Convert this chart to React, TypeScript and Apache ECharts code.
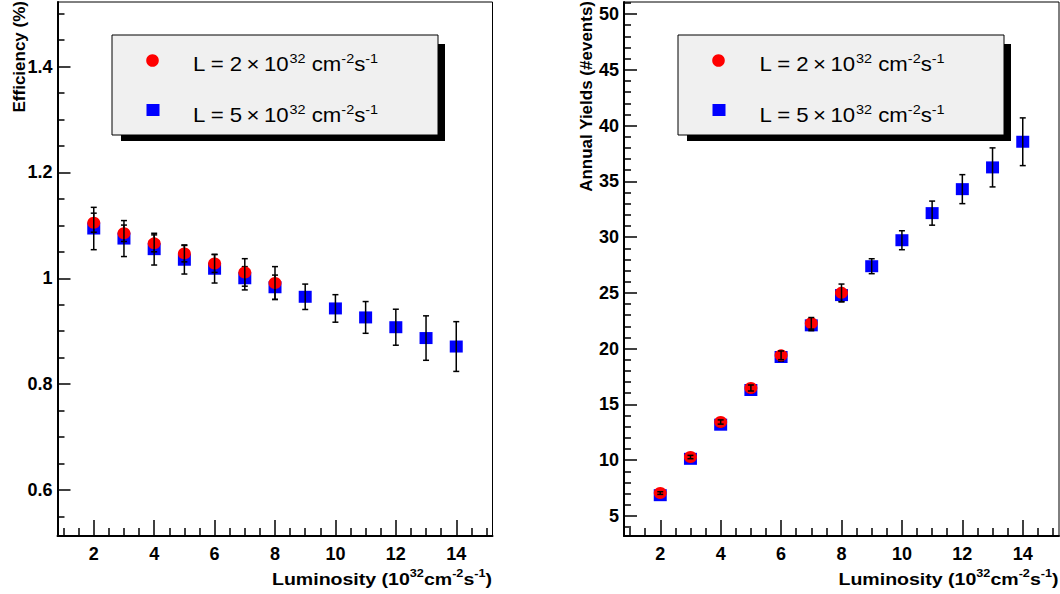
import React, { useEffect, useRef } from "react";
import * as echarts from "echarts";

// ---------- data ----------
const lumL2 = [2, 3, 4, 5, 6, 7, 8];
const lumL5 = [2, 3, 4, 5, 6, 7, 8, 9, 10, 11, 12, 13, 14];

const effL2 = [1.105, 1.085, 1.066, 1.047, 1.028, 1.011, 0.991];
const effL2Err = [0.018, 0.0155, 0.016, 0.016, 0.017, 0.026, 0.031];
const effL5 = [1.094, 1.075, 1.055, 1.035, 1.018, 1.0, 0.983, 0.965, 0.943, 0.926, 0.9075, 0.887, 0.871];
const effL5Err = [0.04, 0.034, 0.03, 0.027, 0.027, 0.022, 0.023, 0.024, 0.026, 0.03, 0.034, 0.042, 0.047];

const yieldL2 = [7.05, 10.28, 13.42, 16.47, 19.4, 22.27, 25.0];
const yieldL2Err = [0.12, 0.15, 0.19, 0.27, 0.39, 0.52, 0.79];
const yieldL5 = [6.86, 10.12, 13.18, 16.29, 19.25, 22.09, 24.8, 27.39, 29.72, 32.15, 34.3, 36.25, 38.55];
const yieldL5Err = [0.11, 0.14, 0.18, 0.25, 0.36, 0.48, 0.6, 0.67, 0.85, 1.08, 1.3, 1.75, 2.14];

const xMajorTicks = [2, 4, 6, 8, 10, 12, 14];
const xMinorTicks = [1, 1.5, 2.5, 3, 3.5, 4.5, 5, 5.5, 6.5, 7, 7.5, 8.5, 9, 9.5, 10.5, 11, 11.5, 12.5, 13, 13.5, 14.5, 15];
const effMajorTicks = [0.6, 0.8, 1, 1.2, 1.4];
const effMinorTicks = [0.55, 0.65, 0.7, 0.75, 0.85, 0.9, 0.95, 1.05, 1.1, 1.15, 1.25, 1.3, 1.35, 1.45, 1.5];
const yieldMajorTicks = [5, 10, 15, 20, 25, 30, 35, 40, 45, 50];
const yieldMinorTicks = [4, 6, 7, 8, 9, 11, 12, 13, 14, 16, 17, 18, 19, 21, 22, 23, 24, 26, 27, 28, 29, 31, 32, 33, 34, 36, 37, 38, 39, 41, 42, 43, 44, 46, 47, 48, 49, 51];

const xRange = [0.8, 15.2];
const effRange = [0.513, 1.522];
const yieldRange = [3.2, 51.08];

const legendLabels = ["2", "5"];
const effTitle = "Efficiency (%)";
const yieldTitle = "Annual Yields (#events)";

// ---------- styling ----------
const FONT = '"Liberation Sans", Arial, Helvetica, sans-serif';
const RED = "#ff0000";
const BLUE = "#0000ff";

function xAxes(grid: number) {
  return [
    {
      type: "value", gridIndex: grid, min: xRange[0], max: xRange[1], position: "bottom",
      axisLine: { show: true, onZero: false, lineStyle: { color: "#000", width: 2 } },
      axisTick: { show: true, inside: true, length: 16, customValues: xMajorTicks, lineStyle: { color: "#000", width: 1.5 } },
      axisLabel: { show: true, customValues: xMajorTicks, margin: 9, color: "#000", fontFamily: FONT, fontWeight: "bold", fontSize: 18 },
      splitLine: { show: false },
    },
    {
      type: "value", gridIndex: grid, min: xRange[0], max: xRange[1], position: "bottom",
      axisLine: { show: false, onZero: false },
      axisTick: { show: true, inside: true, length: 8, customValues: xMinorTicks, lineStyle: { color: "#000", width: 1.5 } },
      axisLabel: { show: false },
      splitLine: { show: false },
    },
  ];
}

function yAxes(grid: number, range: number[], major: number[], minor: number[]) {
  return [
    {
      type: "value", gridIndex: grid, min: range[0], max: range[1], position: "left",
      axisLine: { show: true, onZero: false, lineStyle: { color: "#000", width: 2 } },
      axisTick: { show: true, inside: true, length: 13, customValues: major, lineStyle: { color: "#000", width: 1.5 } },
      axisLabel: { show: true, customValues: major, margin: 5, color: "#000", fontFamily: FONT, fontWeight: "bold", fontSize: 18 },
      splitLine: { show: false },
    },
    {
      type: "value", gridIndex: grid, min: range[0], max: range[1], position: "left",
      axisLine: { show: false, onZero: false },
      axisTick: { show: true, inside: true, length: 7, customValues: minor, lineStyle: { color: "#000", width: 1.5 } },
      axisLabel: { show: false },
      splitLine: { show: false },
    },
  ];
}

function scatter(xs: number[], ys: number[], axis: number, symbol: string, color: string, z: number) {
  return {
    type: "scatter", xAxisIndex: axis, yAxisIndex: axis, symbol, symbolSize: [13, 12],
    itemStyle: { color, opacity: 1 }, data: xs.map((x, i) => [x, ys[i]]), z, silent: true,
  };
}

function errors(xs: number[], ys: number[], es: number[], axis: number, z: number) {
  return {
    type: "custom", xAxisIndex: axis, yAxisIndex: axis, z, silent: true,
    encode: { x: 0, y: [1, 2] },
    data: xs.map((x, i) => [x, ys[i] - es[i], ys[i] + es[i]]),
    renderItem: (_p: any, api: any) => {
      const lo = api.coord([api.value(0), api.value(1)]);
      const hi = api.coord([api.value(0), api.value(2)]);
      const w = 3;
      const st = { stroke: "#000", lineWidth: 1.5 };
      return {
        type: "group",
        children: [
          { type: "line", shape: { x1: lo[0], y1: lo[1], x2: hi[0], y2: hi[1] }, style: st },
          { type: "line", shape: { x1: lo[0] - w, y1: lo[1], x2: lo[0] + w, y2: lo[1] }, style: st },
          { type: "line", shape: { x1: hi[0] - w, y1: hi[1], x2: hi[0] + w, y2: hi[1] }, style: st },
        ],
      };
    },
  };
}

const legendRich = {
  m: { fontFamily: FONT, fontSize: 20, lineHeight: 22, verticalAlign: "bottom", fill: "#000" },
  s: { fontFamily: FONT, fontSize: 13, lineHeight: 13, verticalAlign: "top", fill: "#000" },
};

function legend(bx: number, tx: number) {
  const items: any[] = [
    { type: "rect", shape: { x: bx + 9, y: 44, width: 324, height: 97 }, style: { fill: "#000" }, z: 10 },
    { type: "rect", shape: { x: bx, y: 35, width: 326, height: 100 }, style: { fill: "#f0f0f0", stroke: "#000", lineWidth: 1 }, z: 11 },
    { type: "circle", shape: { cx: bx + 40.5, cy: 60.5, r: 6.3 }, style: { fill: RED }, z: 12 },
    { type: "rect", shape: { x: bx + 34.5, y: 104, width: 13, height: 12 }, style: { fill: BLUE }, z: 12 },
  ];
  legendLabels.forEach((v, i) => {
    items.push({
      type: "text", x: tx, y: 63 + i * 51, scaleX: 1.11, z: 12,
      style: {
        text: `{m|L = ${v}\u2009×\u200910}{s|32}{m| cm}{s|-2}{m|s}{s|-1}`,
        rich: legendRich, fill: "#000", font: `20px ${FONT}`,
        align: "left", textAlign: "left", verticalAlign: "middle", textVerticalAlign: "middle",
      },
    });
  });
  return items;
}

const titleRich = {
  b: { fontFamily: FONT, fontSize: 17, fontWeight: "bold", lineHeight: 20, verticalAlign: "bottom", fill: "#000" },
  s: { fontFamily: FONT, fontSize: 11, fontWeight: "bold", lineHeight: 11, verticalAlign: "top", fill: "#000" },
};

function xTitle(rx: number) {
  return {
    type: "text", x: rx, y: 577.5, scaleX: 1.15, z: 12,
    style: {
      text: "{b|Luminosity (10}{s|32}{b|cm}{s|-2}{b|s}{s|-1}{b|)}",
      rich: titleRich, fill: "#000", font: `bold 17px ${FONT}`,
      align: "right", textAlign: "right", verticalAlign: "middle", textVerticalAlign: "middle",
    },
  };
}

function yTitle(cx: number, text: string) {
  return {
    type: "text", x: cx, y: 1, rotation: Math.PI / 2, z: 12,
    style: {
      text, fill: "#000", font: `bold 17px ${FONT}`,
      align: "right", textAlign: "right", verticalAlign: "middle", textVerticalAlign: "middle",
    },
  };
}

export default function App() {
  const ref = useRef<HTMLDivElement>(null);
  useEffect(() => {
    if (!ref.current) return;
    const chart = echarts.init(ref.current, null, { renderer: "svg" });
    chart.setOption({
      animation: false,
      backgroundColor: "#fff",
      grid: [
        { left: 57.5, top: 2, width: 435, height: 534, show: true, borderColor: "#000", borderWidth: 1, backgroundColor: "transparent", outerBoundsMode: "none" },
        { left: 624, top: 2, width: 435, height: 534, show: true, borderColor: "#000", borderWidth: 1, backgroundColor: "transparent", outerBoundsMode: "none" },
      ],
      xAxis: [...xAxes(0), ...xAxes(1)],
      yAxis: [
        ...yAxes(0, effRange, effMajorTicks, effMinorTicks),
        ...yAxes(1, yieldRange, yieldMajorTicks, yieldMinorTicks),
      ],
      series: [
        scatter(lumL5, effL5, 0, "rect", BLUE, 2),
        errors(lumL5, effL5, effL5Err, 0, 3),
        scatter(lumL2, effL2, 0, "circle", RED, 4),
        errors(lumL2, effL2, effL2Err, 0, 5),
        scatter(lumL5, yieldL5, 2, "rect", BLUE, 2),
        errors(lumL5, yieldL5, yieldL5Err, 2, 3),
        scatter(lumL2, yieldL2, 2, "circle", RED, 4),
        errors(lumL2, yieldL2, yieldL2Err, 2, 5),
      ],
      graphic: [
        ...legend(112, 193),
        ...legend(678, 759.5),
        xTitle(492),
        xTitle(1058.5),
        yTitle(19, effTitle),
        yTitle(586, yieldTitle),
      ],
    });
    return () => chart.dispose();
  }, []);
  return <div ref={ref} style={{ position: "absolute", left: 0, top: 0, width: 1060, height: 594, background: "#fff" }} />;
}
